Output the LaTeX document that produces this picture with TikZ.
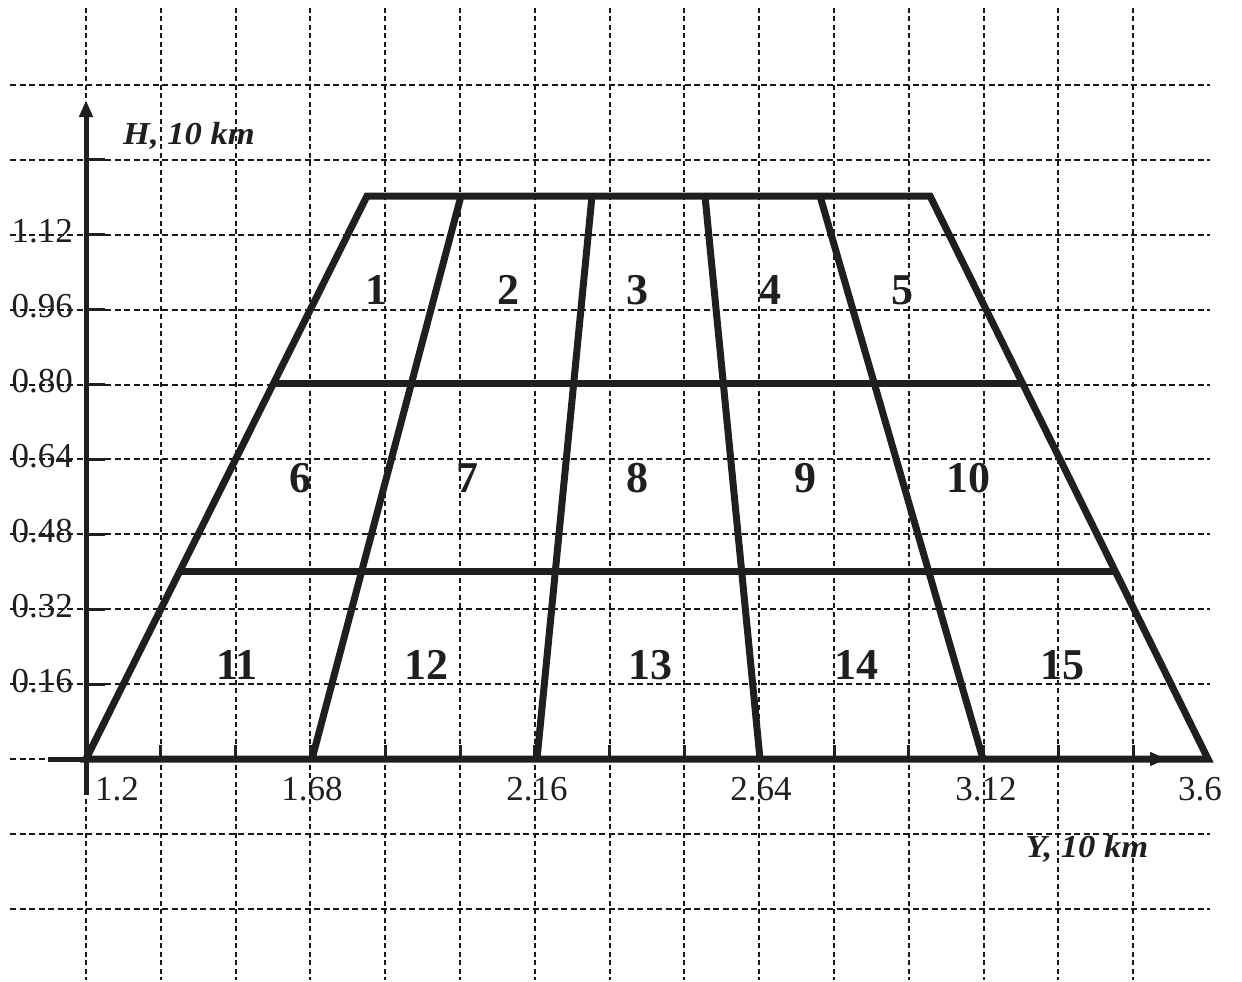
\documentclass[tikz,border=0pt]{standalone}
\usepackage{fontspec}
\setmainfont{Liberation Serif}
\usetikzlibrary{arrows.meta,calc}
\begin{document}
\begin{tikzpicture}[x=1pt,y=-1pt,
  gridv/.style={line width=2pt, dash pattern=on 5pt off 3.5pt, black!90},
  gridh/.style={line width=2pt, dash pattern=on 6pt off 3.5pt, black!90},
  zoneline/.style={line width=7pt, black!88},
  axisline/.style={line width=5pt, black!88, -{Triangle[length=17pt,width=13pt]}},
  tickmark/.style={line width=3pt, black!88},
  ticklabel/.style={font=\fontsize{35}{35}\selectfont, inner sep=0pt, black!88},
  zonelabel/.style={font=\fontsize{44}{44}\selectfont\bfseries, inner sep=0pt, black!88},
  axislabel/.style={font=\fontsize{32}{32}\selectfont\bfseries\itshape, inner sep=0pt, black!88}
]
\useasboundingbox (0,0) rectangle (1242,982);

% grid
\foreach \k in {0,...,14} \draw[gridv] ({86+74.8*\k},8) -- ({86+74.8*\k},980);
\foreach \j in {-2,...,9} \draw[gridh] (10,{759-74.9*\j}) -- (1210,{759-74.9*\j});

% axes
\coordinate (yb) at (86,795);
\coordinate (yt) at (86,100);
\coordinate (xl) at (48,759);
\coordinate (xr) at (1167,759);
\draw[axisline] (yb) -- (yt);
\draw[axisline] (xl) -- (xr);
\foreach \j in {1,...,8} \draw[tickmark] (86,{759-74.9*\j}) -- (105,{759-74.9*\j});
\foreach \k in {1,...,14} \draw[tickmark] ({86+74.8*\k},759) -- ({86+74.8*\k},745);

% trapezoid
\coordinate (BL) at (86,759);
\coordinate (BR) at (1208,759);
\coordinate (TR) at (930,196);
\coordinate (TL) at (367,196);
\coordinate (b1) at (312,759);
\coordinate (b2) at (537,759);
\coordinate (b3) at (760,759);
\coordinate (b4) at (983,759);
\coordinate (t1) at (461,196);
\coordinate (t2) at (592,196);
\coordinate (t3) at (705,196);
\coordinate (t4) at (820,196);
\coordinate (m1L) at ($(BL)!1/3!(TL)$);
\coordinate (m1R) at ($(BR)!1/3!(TR)$);
\coordinate (m2L) at ($(BL)!2/3!(TL)$);
\coordinate (m2R) at ($(BR)!2/3!(TR)$);

\draw[zoneline, line join=miter] (BL) -- (BR) -- (TR) -- (TL) -- cycle;
\draw[zoneline] (b1) -- (t1);
\draw[zoneline] (b2) -- (t2);
\draw[zoneline] (b3) -- (t3);
\draw[zoneline] (b4) -- (t4);
\draw[zoneline] (m1L) -- (m1R);
\draw[zoneline] (m2L) -- (m2R);

% y labels
\node[ticklabel, anchor=east] (l112) at (73,231) {1.12};
\node[ticklabel, anchor=east] (l096) at (73,306) {0.96};
\node[ticklabel, anchor=east] (l080) at (73,381) {0.80};
\node[ticklabel, anchor=east] (l064) at (73,456) {0.64};
\node[ticklabel, anchor=east] (l048) at (73,531) {0.48};
\node[ticklabel, anchor=east] (l032) at (73,606) {0.32};
\node[ticklabel, anchor=east] (l016) at (73,681) {0.16};

% x labels
\node[ticklabel, anchor=north west] (x120) at (95,777) {1.2};
\node[ticklabel, anchor=north] (x168) at (312,777) {1.68};
\node[ticklabel, anchor=north] (x216) at (537,777) {2.16};
\node[ticklabel, anchor=north] (x264) at (761,777) {2.64};
\node[ticklabel, anchor=north] (x312) at (986,777) {3.12};
\node[ticklabel, anchor=north] (x360) at (1200,777) {3.6};

% axis labels
\node[axislabel] (hlab) at (189,136) {\scalebox{1.08}[1]{H, 10 km}};
\node[axislabel] (ylab) at (1087,849) {\scalebox{1.08}[1]{Y, 10 km}};

% zone labels
\node[zonelabel] (z1) at (376,290) {1};
\node[zonelabel] (z2) at (508,290) {2};
\node[zonelabel] (z3) at (637,290) {3};
\node[zonelabel] (z4) at (770,290) {4};
\node[zonelabel] (z5) at (902,290) {5};
\node[zonelabel] (z6) at (300,478) {6};
\node[zonelabel] (z7) at (467,478) {7};
\node[zonelabel] (z8) at (637,478) {8};
\node[zonelabel] (z9) at (805,478) {9};
\node[zonelabel] (z10) at (968,478) {10};
\node[zonelabel] (z11) at (237,665) {11};
\node[zonelabel] (z12) at (426,665) {12};
\node[zonelabel] (z13) at (650,665) {13};
\node[zonelabel] (z14) at (856,665) {14};
\node[zonelabel] (z15) at (1062,665) {15};
\end{tikzpicture}
\end{document}
